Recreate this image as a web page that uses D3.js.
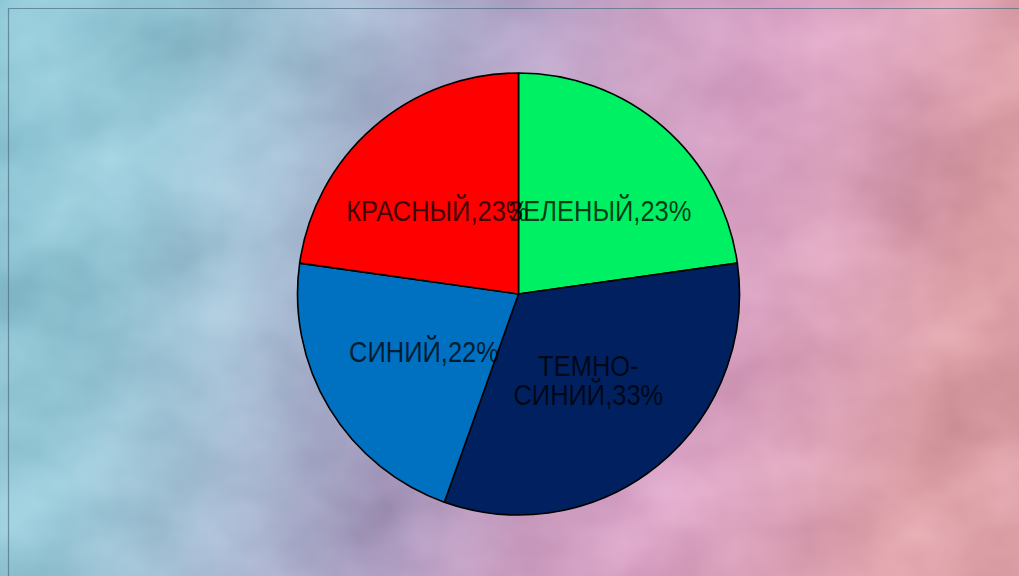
<!DOCTYPE html>
<html>
<head>
<meta charset="utf-8">
<script src="https://cdn.jsdelivr.net/npm/d3@7"></script>
<style>
  html, body { margin: 0; padding: 0; overflow: hidden; background: #b8b8d8; }
  svg { display: block; }
</style>
</head>
<body>
<svg id="chart" width="1019" height="576"></svg>
<script>
// Slice data, clockwise from 12 o'clock
const categories = ["ЗЕЛЕНЫЙ", "ТЕМНО-СИНИЙ", "СИНИЙ", "КРАСНЫЙ"];
const values = [23, 33, 22, 23];
const colors = ["#00f064", "#002060", "#0070c0", "#ff0000"];

const W = 1019, H = 576;
const cx = 518.5, cy = 294, R = 221;

const svg = d3.select("#chart");
const defs = svg.append("defs");

// Soft multi-stop wash from cyan on the left to rose on the right
const grad = defs.append("linearGradient").attr("id", "wash")
  .attr("x1", "0").attr("y1", "0").attr("x2", "1").attr("y2", "0.15");
[
  [0.00, "#8dcfe0"], [0.18, "#98d0e2"], [0.30, "#aacbe2"],
  [0.42, "#aeb2d4"], [0.52, "#bea8d2"], [0.64, "#d8a4cc"],
  [0.76, "#e4a4cc"], [0.88, "#eaa8c2"], [1.00, "#e8a2aa"]
].forEach(([o, c]) => grad.append("stop").attr("offset", o).attr("stop-color", c));

// Gentle cloudy mottling blended over the wash
const clouds = defs.append("filter").attr("id", "clouds")
  .attr("x", 0).attr("y", 0).attr("width", "100%").attr("height", "100%")
  .attr("color-interpolation-filters", "sRGB");
clouds.append("feTurbulence").attr("type", "fractalNoise")
  .attr("baseFrequency", "0.007 0.009").attr("numOctaves", 4).attr("seed", 11)
  .attr("result", "noise");
clouds.append("feColorMatrix").attr("in", "noise").attr("type", "matrix")
  .attr("values", "1 0 0 0 0  1 0 0 0 0  1 0 0 0 0  0 0 0 0 1")
  .attr("result", "gray");
clouds.append("feBlend").attr("in", "SourceGraphic").attr("in2", "gray")
  .attr("mode", "soft-light").attr("result", "mixed");
clouds.append("feComposite").attr("in", "mixed").attr("in2", "SourceGraphic")
  .attr("operator", "arithmetic").attr("k2", 0.22).attr("k3", 0.78);

svg.append("rect").attr("width", W).attr("height", H)
  .attr("fill", "url(#wash)").attr("filter", "url(#clouds)");

// Frame line along the top and left
svg.append("path")
  .attr("d", `M8.5,${H} V8.5 H${W}`)
  .attr("fill", "none").attr("stroke", "#4f6f80").attr("stroke-opacity", 0.7)
  .attr("stroke-width", 1.2);

const pie = d3.pie().sort(null).value(d => d)(values);
const arc = d3.arc().innerRadius(0).outerRadius(R);
const labelArc = d3.arc().innerRadius(R * 0.5).outerRadius(R * 0.5);

const g = svg.append("g").attr("transform", `translate(${cx},${cy})`);

g.selectAll("path.slice").data(pie).join("path")
  .attr("class", "slice")
  .attr("d", arc)
  .attr("fill", (d, i) => colors[i])
  .attr("stroke", "#000").attr("stroke-width", 1.6).attr("stroke-linejoin", "round");

const fontSize = 25.5;
const sy = 1.14;
const lineH = 29;
const labels = g.selectAll("g.lbl").data(pie).join("g")
  .attr("class", "lbl")
  .attr("transform", d => {
    const [x, y] = labelArc.centroid(d);
    // wide single-line labels in the upper half sit a little further out
    const push = y < 0 ? 1.12 : 1;
    return `translate(${x * push},${y})`;
  });

labels.each(function (d, i) {
  const name = categories[i];
  const parts = name.includes("-")
    ? [name.slice(0, name.indexOf("-") + 1), name.slice(name.indexOf("-") + 1) + "," + values[i] + "%"]
    : [name + "," + values[i] + "%"];
  const t = d3.select(this).append("text")
    .attr("text-anchor", "middle")
    .attr("font-family", "'Liberation Sans', Arial, sans-serif")
    .attr("font-size", fontSize)
    .attr("fill", "#000").attr("fill-opacity", 0.75)
    .attr("transform", `scale(1,${sy})`);
  const y0 = -((parts.length - 1) * lineH) / 2 / sy + fontSize * 0.36;
  parts.forEach((p, k) => {
    t.append("tspan").attr("x", 0).attr("y", y0 + k * lineH / sy).text(p);
  });
});
</script>
</body>
</html>
